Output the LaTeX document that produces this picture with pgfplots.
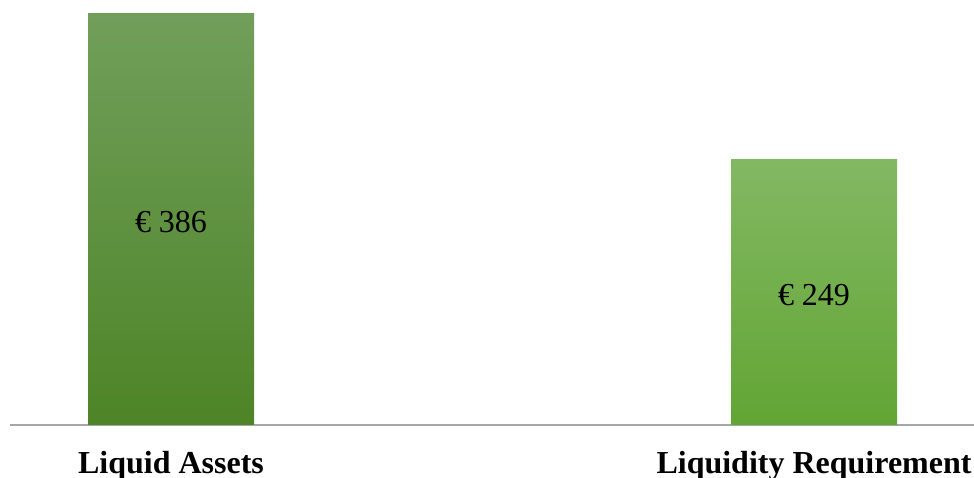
\documentclass[border=0pt]{standalone}
\usepackage{pgfplots}
\pgfplotsset{compat=1.18}
\usepackage{fontspec}
\setmainfont{Liberation Serif}
\definecolor{laTop}{HTML}{719F5B}
\definecolor{laBot}{HTML}{4E8427}
\definecolor{lrTop}{HTML}{83B863}
\definecolor{lrBot}{HTML}{62A534}
\definecolor{axgray}{HTML}{A6A6A6}
\begin{document}
\begin{tikzpicture}
\begin{axis}[
  scale only axis,
  width=964bp, height=425bp,
  xmin=-0.2504, xmax=1.2488,
  ymin=0, ymax=398.2,
  axis x line*=bottom,
  axis y line=none,
  x axis line style={draw=axgray, line width=1.5bp},
  xtick={0,1},
  xticklabels={Liquid Assets, Liquidity Requirement},
  xtick style={draw=none},
  xticklabel style={anchor=base, yshift=-48bp, font=\fontsize{32bp}{36bp}\selectfont\bfseries},
  ytick=\empty,
  clip=false,
]
\addplot[ybar, bar width=166bp, bar shift=0pt, draw=none, top color=laTop, bottom color=laBot] coordinates {(0,386)};
\addplot[ybar, bar width=166bp, bar shift=0pt, draw=none, top color=lrTop, bottom color=lrBot] coordinates {(1,249)};
\node[font=\fontsize{32bp}{36bp}\selectfont, yshift=-3bp] at (axis cs:0,193) {€ 386};
\node[font=\fontsize{32bp}{36bp}\selectfont, yshift=-3bp] at (axis cs:1,124.5) {€ 249};
\end{axis}
\pgfresetboundingbox
\path (-10bp,-53bp) rectangle (964bp,425bp);
\end{tikzpicture}
\end{document}
